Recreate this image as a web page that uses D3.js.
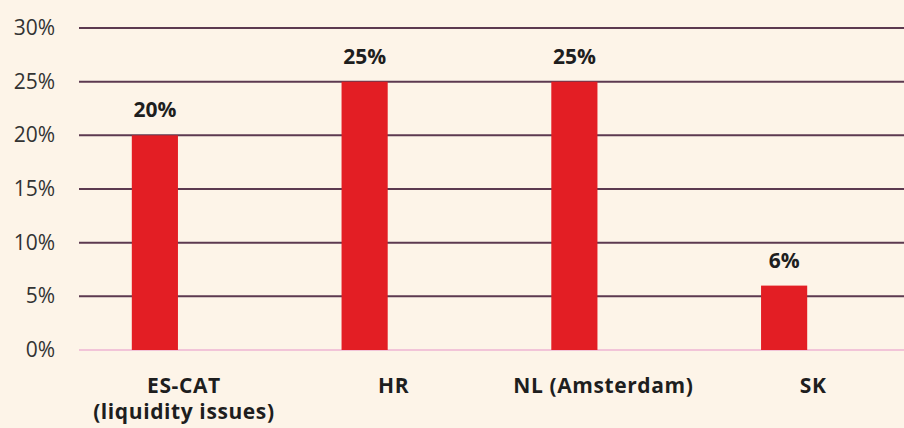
<!DOCTYPE html>
<html>
<head>
<meta charset="utf-8">
<script src="https://cdn.jsdelivr.net/npm/d3@7"></script>
<style>
  body { margin: 0; background: #fdf4e8; }
  svg { display: block; }
</style>
</head>
<body>
<script>
// data
var categories = ["ES-CAT|(liquidity issues)", "HR", "NL (Amsterdam)", "SK"];
var values = [20, 25, 25, 6];
var tickValues = [0, 5, 10, 15, 20, 25, 30];

var width = 904, height = 428;

var svg = d3.select("body").append("svg")
    .attr("width", width)
    .attr("height", height)
    .style("background-color", "#fdf4e8")
    .style("font-family", "'Open Sans', sans-serif");

// scales
var x = d3.scaleBand()
    .domain(categories)
    .range([50, 889])
    .paddingInner(0.78)
    .paddingOuter(0.39);

var y = d3.scaleLinear()
    .domain([0, 30])
    .range([350, 28]);

// gridlines
svg.append("g")
    .selectAll("line")
    .data(tickValues)
    .join("line")
    .attr("x1", 79)
    .attr("x2", width)
    .attr("y1", d => y(d))
    .attr("y2", d => y(d))
    .attr("stroke", d => d === 0 ? "#f2c4d8" : "#5c3a50")
    .attr("stroke-width", 2);

// y tick labels
svg.append("g")
    .selectAll("text")
    .data(tickValues)
    .join("text")
    .attr("x", 55)
    .attr("y", d => y(d) + 7)
    .attr("text-anchor", "end")
    .attr("font-size", 21)
    .attr("fill", "#333")
    .text(d => d + "%");

// bars
svg.append("g")
    .selectAll("rect")
    .data(values)
    .join("rect")
    .attr("x", (d, i) => x(categories[i]))
    .attr("y", d => y(d))
    .attr("width", x.bandwidth())
    .attr("height", d => y(0) - y(d))
    .attr("fill", "#e31e24");

// value labels
svg.append("g")
    .selectAll("text")
    .data(values)
    .join("text")
    .attr("x", (d, i) => x(categories[i]) + x.bandwidth() / 2)
    .attr("y", d => y(d) - 18)
    .attr("text-anchor", "middle")
    .attr("font-size", 21)
    .attr("font-weight", "bold")
    .attr("fill", "#1e1e1e")
    .text(d => d + "%");

// category labels (sit a bit right of the bar)
var cat = svg.append("g")
    .selectAll("text")
    .data(categories)
    .join("text")
    .attr("x", d => x(d) + x.bandwidth() / 2 + 29)
    .attr("y", 393)
    .attr("text-anchor", "middle")
    .attr("font-size", 21)
    .attr("font-weight", "bold")
    .attr("letter-spacing", 0.6)
    .attr("fill", "#1e1e1e");

cat.selectAll("tspan")
    .data(d => d.split("|"))
    .join("tspan")
    .attr("x", function() { return d3.select(this.parentNode).attr("x"); })
    .attr("dy", (d, i) => i === 0 ? 0 : 26)
    .text(d => d);
</script>
</body>
</html>
